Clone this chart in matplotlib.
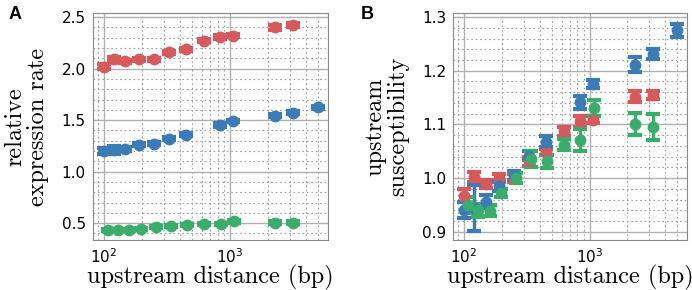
import matplotlib
matplotlib.use('Agg')
import matplotlib.pyplot as plt
from matplotlib.ticker import MultipleLocator, LogLocator, NullFormatter

# distances (bp)
x_red = [100, 120, 149, 190, 249, 329, 452, 621, 832, 1063, 2297, 3192]
x_blue = [100, 120, 149, 190, 249, 329, 452, 832, 1063, 2297, 3192, 4990]
x_green = [108, 129, 160, 198, 258, 339, 460, 621, 844, 1082, 2297, 3192]

# panel A: relative expression rate
a_red = [2.02, 2.09, 2.07, 2.09, 2.09, 2.16, 2.19, 2.27, 2.31, 2.32, 2.40, 2.42]
a_red_err = [0.025, 0.02, 0.015, 0.015, 0.015, 0.015, 0.015, 0.015, 0.02, 0.015, 0.025, 0.02]
a_blue = [1.20, 1.21, 1.22, 1.26, 1.27, 1.32, 1.36, 1.455, 1.495, 1.545, 1.57, 1.625]
a_blue_err = [0.025, 0.04, 0.015, 0.015, 0.015, 0.015, 0.015, 0.02, 0.01, 0.015, 0.015, 0.015]
a_green = [0.435, 0.432, 0.432, 0.445, 0.458, 0.474, 0.48, 0.487, 0.494, 0.516, 0.506, 0.506]
a_green_err = [0.01] * 12

# panel B: upstream susceptibility
b_red = [0.967, 1.002, 0.989, 1.0, 1.0, 1.031, 1.049, 1.087, 1.106, 1.109, 1.152, 1.155]
b_red_err = [0.012, 0.01, 0.007, 0.007, 0.008, 0.008, 0.006, 0.008, 0.01, 0.006, 0.01, 0.008]
b_blue = [0.94, 0.945, 0.956, 0.985, 1.005, 1.042, 1.068, 1.141, 1.175, 1.211, 1.231, 1.275]
b_blue_err = [0.015, 0.043, 0.012, 0.01, 0.008, 0.008, 0.01, 0.012, 0.008, 0.014, 0.01, 0.013]
b_green = [0.95, 0.94, 0.939, 0.972, 1.0, 1.035, 1.031, 1.062, 1.071, 1.13, 1.101, 1.095]
b_green_err = [0.015, 0.012, 0.01, 0.008, 0.01, 0.015, 0.012, 0.01, 0.02, 0.015, 0.02, 0.024]

red = '#d65a5c'
blue = '#3b7bb7'
green = '#3aad6a'

fig = plt.figure(figsize=(6.92, 2.90), dpi=100)
axA = fig.add_axes([0.134, 0.172, 0.340, 0.783])
axB = fig.add_axes([0.655, 0.172, 0.338, 0.783])

def draw(ax, series):
    for x, y, e, c in series:
        ax.errorbar(x, y, yerr=e, fmt='o', color=c, ms=7.5, elinewidth=2.5,
                    capsize=5, capthick=3, zorder=3)
    ax.set_xscale('log')
    ax.set_xlim(82, 6000)
    ax.xaxis.set_minor_locator(LogLocator(base=10, subs=range(2, 10)))
    ax.xaxis.set_minor_formatter(NullFormatter())
    ax.grid(which='major', color='#b0b0b0', lw=1.0)
    ax.grid(which='minor', color='#a0a0a0', lw=0.8, ls=(0, (1.5, 2.5)))
    ax.set_axisbelow(True)
    for s in ax.spines.values():
        s.set_color('#888888')
        s.set_linewidth(0.8)
    ax.tick_params(which='both', length=0, labelsize=11, pad=5)
    ax.set_xlabel('upstream distance (bp)', fontfamily='cmr10', fontsize=17.5, labelpad=-1)

draw(axA, [(x_red, a_red, a_red_err, red),
           (x_blue, a_blue, a_blue_err, blue),
           (x_green, a_green, a_green_err, green)])
axA.set_ylim(0.335, 2.54)
axA.yaxis.set_major_locator(MultipleLocator(0.5))
axA.yaxis.set_minor_locator(MultipleLocator(0.1))
axA.set_ylabel('relative\nexpression rate', fontfamily='cmr10', fontsize=17.5,
               labelpad=9, linespacing=1.05)

draw(axB, [(x_red, b_red, b_red_err, red),
           (x_blue, b_blue, b_blue_err, blue),
           (x_green, b_green, b_green_err, green)])
axB.set_ylim(0.8844, 1.3075)
axB.yaxis.set_major_locator(MultipleLocator(0.1))
axB.yaxis.set_minor_locator(MultipleLocator(0.02))
axB.set_ylabel('upstream\nsusceptibility', fontfamily='cmr10', fontsize=17.5,
               labelpad=9, linespacing=1.05)

fig.text(0.012, 0.935, 'A', fontsize=13, fontweight='bold', fontfamily='Liberation Sans')
fig.text(0.522, 0.935, 'B', fontsize=13, fontweight='bold', fontfamily='Liberation Sans')

fig.savefig('out.png', dpi=100)
